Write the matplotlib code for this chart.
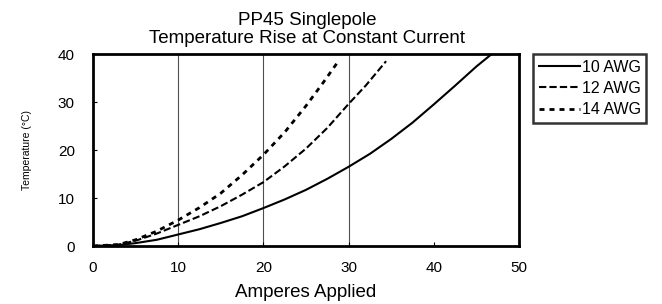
import matplotlib
matplotlib.use("Agg")
import matplotlib.pyplot as plt

plt.rcParams['font.family'] = ['Liberation Sans', 'DejaVu Sans']

# values
amps_10 = [0, 3, 5, 7.5, 10, 12.5, 15, 17.5, 20, 22.5, 25, 27.5, 30, 32.5, 35, 37.5, 40, 42.5, 45, 46.8]
temp_10 = [0, 0.2, 0.6, 1.3, 2.4, 3.5, 4.8, 6.2, 7.9, 9.7, 11.7, 14.0, 16.5, 19.2, 22.3, 25.7, 29.5, 33.4, 37.4, 40.0]

amps_12 = [0, 3, 5, 7.5, 10, 12.5, 15, 17.5, 20, 22.5, 25, 27.5, 30, 32, 34.4]
temp_12 = [0, 0.3, 1.1, 2.6, 4.4, 6.2, 8.3, 10.7, 13.3, 16.6, 20.3, 24.6, 29.6, 33.4, 38.5]

amps_14 = [0, 3, 5, 7.5, 10, 12.5, 15, 17.5, 20, 22.5, 25, 27, 28.8]
temp_14 = [0, 0.3, 1.3, 3.1, 5.4, 8.0, 11.0, 14.8, 19.0, 23.7, 29.2, 34.0, 38.5]

labels = ["10 AWG", "12 AWG", "14 AWG"]
x_ticks = [0, 10, 20, 30, 40, 50]
y_ticks = [0, 10, 20, 30, 40]
grid_x = [10, 20, 30]

fig = plt.figure(figsize=(6.62, 3.04), dpi=100)
ax = fig.add_axes([93 / 662, 1 - 246 / 304, 426 / 662, 192 / 304])

ax.plot(amps_10, temp_10, color="black", lw=1.5, ls="-", label=labels[0])
ax.plot(amps_12, temp_12, color="black", lw=1.5, ls=(0, (3.5, 1.5)), label=labels[1])
ax.plot(amps_14, temp_14, color="black", lw=2.0, ls=(0, (1.8, 1.8)), label=labels[2])

for gx in grid_x:
    ax.axvline(gx, color="#505050", lw=0.8, zorder=0)

ax.set_xlim(0, 50)
ax.set_ylim(0, 40)
ax.set_xticks(x_ticks)
ax.set_yticks(y_ticks)
ax.tick_params(direction="in", length=3, width=0.8, labelsize=11)
ax.tick_params(axis="y", pad=13)
ax.tick_params(axis="x", pad=11)
for s in ax.spines.values():
    s.set_linewidth(2)

ax.set_xlabel("Amperes Applied", fontsize=13.5, labelpad=6)
ax.set_ylabel("Temperature (°C)", fontsize=7.5, labelpad=19)

fig.text(0.464, 1 - 25 / 304, "PP45 Singlepole", ha="center", va="baseline", fontsize=13.5)
fig.text(0.464, 1 - 43 / 304, "Temperature Rise at Constant Current", ha="center", va="baseline", fontsize=13.5)

leg = fig.legend(loc="upper left", bbox_to_anchor=(533 / 662, 1 - 54 / 304), frameon=True, fancybox=False,
                 edgecolor="black", fontsize=11.5, handlelength=2.6, handletextpad=0.1,
                 borderpad=0.35, labelspacing=0.4, borderaxespad=0)
leg.get_frame().set_linewidth(1.8)

fig.savefig("out.png", dpi=100)
